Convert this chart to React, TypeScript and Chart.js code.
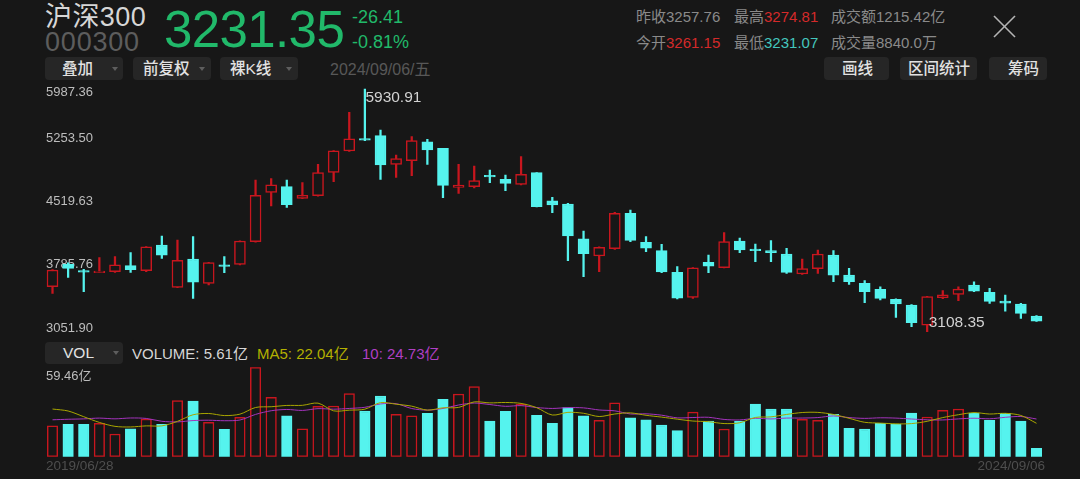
import React, { useEffect, useRef } from "react";
import { Chart, registerables } from "chart.js";
Chart.register(...registerables);

const BG = "#171717";
const RED = "#c8161e";
const CYAN = "#55f3ee";
const FONT = '"Liberation Sans", "Noto Sans CJK SC", sans-serif';

// ---------- data ----------
const months = [
  "2019/06", "2019/07", "2019/08", "2019/09", "2019/10", "2019/11", "2019/12",
  "2020/01", "2020/02", "2020/03", "2020/04", "2020/05", "2020/06", "2020/07", "2020/08", "2020/09", "2020/10", "2020/11", "2020/12",
  "2021/01", "2021/02", "2021/03", "2021/04", "2021/05", "2021/06", "2021/07", "2021/08", "2021/09", "2021/10", "2021/11", "2021/12",
  "2022/01", "2022/02", "2022/03", "2022/04", "2022/05", "2022/06", "2022/07", "2022/08", "2022/09", "2022/10", "2022/11", "2022/12",
  "2023/01", "2023/02", "2023/03", "2023/04", "2023/05", "2023/06", "2023/07", "2023/08", "2023/09", "2023/10", "2023/11", "2023/12",
  "2024/01", "2024/02", "2024/03", "2024/04", "2024/05", "2024/06", "2024/07", "2024/08", "2024/09",
];

const openP = [
  3632, 3892, 3818, 3795, 3807, 3877, 3818, 4117, 3625, 3954,
  3671, 3880, 3892, 4156, 4729, 4795, 4660, 4690, 4962, 5210,
  5350, 5388, 5055, 5098, 5318, 5241, 4787, 4795, 4919, 4880,
  4822, 4958, 4632, 4594, 4190, 3989, 4074, 4485, 4148, 4051,
  3799, 3508, 3915, 3853, 4163, 4066, 4051, 4012, 3780, 3842,
  4001, 3768, 3671, 3601, 3485, 3419, 3186, 3504, 3543, 3652,
  3566, 3466, 3431, 3291,
];
const highP = [
  3830, 3911, 3834, 3970, 3981, 4028, 4100, 4222, 4175, 4214,
  3915, 3981, 4165, 4872, 4888, 4872, 4842, 5055, 5214, 5660,
  5930.91, 5454, 5163, 5377, 5346, 5241, 5055, 5036, 4989, 4931,
  5144, 4960, 4671, 4601, 4280, 4095, 4497, 4524, 4214, 4125,
  3865, 3855, 4001, 4260, 4198, 4128, 4167, 4078, 3954, 4059,
  4051, 3845, 3702, 3632, 3490, 3425, 3520, 3586, 3632, 3690,
  3613, 3535, 3438, 3295,
];
const lowP = [
  3555, 3741, 3574, 3795, 3799, 3799, 3808, 3962, 3620, 3497,
  3652, 3795, 3885, 4150, 4570, 4555, 4655, 4685, 4853, 5205,
  5330, 4880, 4904, 4923, 5055, 4667, 4718, 4780, 4842, 4749,
  4815, 4560, 4493, 3935, 3749, 3807, 4066, 4156, 4039, 3795,
  3489, 3495, 3795, 3850, 4028, 3923, 3923, 3787, 3775, 3787,
  3690, 3659, 3446, 3477, 3276, 3167, 3108.35, 3493, 3469, 3575,
  3438, 3349, 3264, 3229,
];
const closeP = [
  3826, 3845, 3800, 3815, 3887, 3829, 4097, 4000, 3940, 3686,
  3913, 3867, 4164, 4695, 4816, 4587, 4695, 4960, 5211, 5352,
  5337, 5048, 5123, 5332, 5224, 4811, 4814, 4866, 4909, 4832,
  4940, 4564, 4582, 4223, 4016, 4090, 4485, 4170, 4079, 3805,
  3500, 3853, 3872, 4157, 4061, 4051, 4029, 3799, 3842, 4012,
  3765, 3690, 3573, 3496, 3431, 3215, 3516, 3538, 3604, 3580,
  3462, 3442, 3321, 3231.35,
];
// monthly volume, 亿
const volumes = [
  20.6, 21.5, 21.5, 22.2, 15.1, 18.6, 25.1, 21.5, 37.3, 37.0,
  22.8, 18.2, 26.2, 59.46, 39.5, 27.1, 18.6, 33.5, 33.7, 41.9,
  30.4, 40.4, 28.2, 27.1, 28.8, 38.1, 41.7, 46.6, 23.7, 30.2,
  35.0, 27.5, 22.2, 32.6, 27.1, 24.2, 35.9, 25.9, 24.6, 21.1,
  17.3, 29.7, 23.7, 18.4, 23.7, 35.0, 31.7, 31.7, 24.8, 24.2,
  28.2, 18.8, 18.4, 22.2, 21.7, 29.0, 26.4, 30.8, 31.7, 28.8,
  24.2, 28.8, 23.7, 5.61,
];
// the nine months before 2019/06 (only feed the moving averages)
const prevVolumes = [18, 19, 17, 20, 13, 28, 40.5, 41.2, 28.2];

const yTickLabels = ["5987.36", "5253.50", "4519.63", "3785.76", "3051.90"];
const priceMax = 5987.36;
const priceMin = 3051.9;
const volMax = 59.46;
const volMaxLabel = "59.46亿";

// ---------- derived ----------
const isUp = openP.map((o, i) => closeP[i] >= o);
const allVol = prevVolumes.concat(volumes);
function movingAvg(n: number) {
  return volumes.map((_, i) => {
    const j = i + prevVolumes.length;
    let s = 0;
    for (let k = j - n + 1; k <= j; k++) s += allVol[k];
    return s / n;
  });
}
const ma5 = movingAvg(5);
const ma10 = movingAvg(10);

// layout of plot areas (pixels)
const PLOT_L = 44.7;
const PLOT_R = 1044.3;
const K_TOP = 84.15;
const K_BOTTOM = 336.6;
const V_TOP = 367.3;
const V_BOTTOM = 456.7;
const W = 1080;
const H = 479;

function CandleChart() {
  const ref = useRef<HTMLCanvasElement>(null);
  useEffect(() => {
    const labelPlugin = {
      id: "kLabels",
      beforeDatasetsDraw(chart: any) {
        const ctx = chart.ctx;
        const ys = chart.scales.y;
        ctx.save();
        ctx.font = `13px ${FONT}`;
        ctx.fillStyle = "#bdbdbd";
        ctx.textBaseline = "middle";
        ctx.textAlign = "left";
        yTickLabels.forEach((t, k) => {
          const y = ys.getPixelForValue(parseFloat(t));
          ctx.fillText(t, chart.chartArea.left + 1.3, k === 0 ? y + 8.2 : y - 8.6);
        });
        ctx.restore();
      },
      afterDraw(chart: any) {
        const ctx = chart.ctx;
        const xs = chart.scales.x;
        const ys = chart.scales.y;
        let hi = 0;
        let lo = 0;
        highP.forEach((v, i) => { if (v > highP[hi]) hi = i; });
        lowP.forEach((v, i) => { if (v < lowP[lo]) lo = i; });
        ctx.save();
        ctx.font = `15.5px ${FONT}`;
        ctx.fillStyle = "#d2d2d2";
        ctx.textBaseline = "middle";
        ctx.textAlign = "left";
        ctx.fillText(highP[hi].toFixed(2), xs.getPixelForValue(hi) + 0.5, ys.getPixelForValue(highP[hi]) + 8.5);
        ctx.fillText(lowP[lo].toFixed(2), xs.getPixelForValue(lo) + 1.5, ys.getPixelForValue(lowP[lo]) - 8.7);
        ctx.restore();
      },
    };
    const chart = new Chart(ref.current!, {
      type: "bar",
      data: {
        labels: months,
        datasets: [
          {
            label: "body",
            order: 0,
            data: openP.map((o, i) => [o, closeP[i]]) as any,
            backgroundColor: isUp.map((u) => (u ? BG : CYAN)),
            borderColor: isUp.map((u) => (u ? RED : CYAN)),
            borderWidth: 1.5,
            borderSkipped: false,
            barThickness: 11,
            minBarLength: 1.6,
            grouped: false,
          } as any,
          {
            label: "wick",
            order: 1,
            data: lowP.map((l, i) => [l, highP[i]]) as any,
            backgroundColor: isUp.map((u) => (u ? RED : CYAN)),
            borderWidth: 0,
            barThickness: 1.6,
            grouped: false,
          } as any,
        ],
      },
      options: {
        responsive: false,
        animation: false,
        devicePixelRatio: 1,
        layout: {
          padding: { left: PLOT_L, right: W - PLOT_R, top: K_TOP, bottom: H - K_BOTTOM },
        },
        scales: {
          x: { type: "category", display: false, offset: true, grid: { display: false } },
          y: { display: false, min: priceMin, max: priceMax, grid: { display: false } },
        },
        plugins: { legend: { display: false }, tooltip: { enabled: false } },
      },
      plugins: [labelPlugin],
    });
    return () => chart.destroy();
  }, []);
  return <canvas ref={ref} width={W} height={H} style={{ position: "absolute", left: 0, top: 0 }} />;
}

function VolumeChart() {
  const ref = useRef<HTMLCanvasElement>(null);
  useEffect(() => {
    const volPlugin = {
      id: "vLabels",
      beforeDatasetsDraw(chart: any) {
        const ctx = chart.ctx;
        const ys = chart.scales.y;
        ctx.save();
        ctx.font = `13px ${FONT}`;
        ctx.fillStyle = "#bdbdbd";
        ctx.textBaseline = "middle";
        ctx.textAlign = "left";
        ctx.fillText(volMaxLabel, chart.chartArea.left + 1.3, ys.getPixelForValue(volMax) + 9.4);
        ctx.restore();
      },
    };
    const chart = new Chart(ref.current!, {
      type: "bar",
      data: {
        labels: months,
        datasets: [
          {
            type: "line",
            label: "MA5",
            order: 0,
            data: ma5,
            borderColor: "#a9a600",
            borderWidth: 1,
            pointRadius: 0,
            tension: 0.3,
          } as any,
          {
            type: "line",
            label: "MA10",
            order: 1,
            data: ma10,
            borderColor: "#a434bd",
            borderWidth: 1,
            pointRadius: 0,
            tension: 0.3,
          } as any,
          {
            type: "bar",
            label: "VOL",
            order: 2,
            data: volumes,
            backgroundColor: isUp.map((u) => (u ? BG : CYAN)),
            borderColor: isUp.map((u) => (u ? RED : CYAN)),
            borderWidth: 1.5,
            borderSkipped: false,
            barThickness: 10.5,
          } as any,
        ],
      },
      options: {
        responsive: false,
        animation: false,
        devicePixelRatio: 1,
        layout: {
          padding: { left: PLOT_L, right: W - PLOT_R, top: V_TOP, bottom: H - V_BOTTOM },
        },
        scales: {
          x: { type: "category", display: false, offset: true, grid: { display: false } },
          y: { display: false, min: 0, max: volMax, grid: { display: false } },
        },
        plugins: { legend: { display: false }, tooltip: { enabled: false } },
      },
      plugins: [volPlugin],
    });
    return () => chart.destroy();
  }, []);
  return <canvas ref={ref} width={W} height={H} style={{ position: "absolute", left: 0, top: 0 }} />;
}

function T(props: {
  x: number; y: number; s: number; c: string; w?: number; ls?: number; right?: boolean; children: React.ReactNode;
}) {
  const { x, y, s, c, w, ls, right, children } = props;
  const style: React.CSSProperties = {
    position: "absolute",
    top: y - s / 2,
    fontSize: s,
    lineHeight: `${s}px`,
    color: c,
    fontFamily: FONT,
    fontWeight: w || 400,
    whiteSpace: "nowrap",
    letterSpacing: ls ? `${ls}px` : undefined,
  };
  if (right) style.right = W - x;
  else style.left = x;
  return <div style={style}>{children}</div>;
}

function Btn(props: { x: number; y: number; w: number; h: number }) {
  return (
    <div
      style={{
        position: "absolute",
        left: props.x,
        top: props.y,
        width: props.w,
        height: props.h,
        background: "#262626",
        borderRadius: 4,
      }}
    />
  );
}

function Arrow(props: { x: number; y: number }) {
  return (
    <div
      style={{
        position: "absolute",
        left: props.x - 3.5,
        top: props.y - 2,
        width: 0,
        height: 0,
        borderLeft: "3.5px solid transparent",
        borderRight: "3.5px solid transparent",
        borderTop: "4px solid #5e5e5e",
      }}
    />
  );
}

export default function App() {
  const GREEN = "#21b96a";
  const GRAY = "#8a8a8a";
  const IRED = "#d42a2a";
  const TEAL = "#44c6bd";
  const BT = "#e2e2e2";
  return (
    <div
      style={{
        position: "fixed",
        left: 0,
        top: 0,
        width: W,
        height: H,
        background: BG,
        overflow: "hidden",
      }}
    >
      {/* title block */}
      <T x={45} y={17.5} s={27} c="#d6d6d6" ls={0.4}>沪深300</T>
      <T x={45} y={42} s={27} c="#5d5d5d" ls={0.8}>000300</T>
      <T x={164} y={29} s={51} c={GREEN} ls={-0.6}>3231.35</T>
      <T x={352} y={16.5} s={18} c={GREEN}>-26.41</T>
      <T x={352} y={42} s={18} c={GREEN}>-0.81%</T>

      {/* right info */}
      <T x={636} y={16} s={15} c={GRAY}>昨收3257.76</T>
      <T x={734} y={16} s={15} c={GRAY}>最高<span style={{ color: IRED }}>3274.81</span></T>
      <T x={831} y={16} s={15} c={GRAY}>成交额1215.42亿</T>
      <T x={636} y={42} s={15} c={GRAY}>今开<span style={{ color: IRED }}>3261.15</span></T>
      <T x={734} y={42} s={15} c={GRAY}>最低<span style={{ color: TEAL }}>3231.07</span></T>
      <T x={831} y={42} s={15} c={GRAY}>成交量8840.0万</T>
      <svg style={{ position: "absolute", left: 992, top: 14 }} width={26} height={26}>
        <line x1={2} y1={2} x2={23} y2={23} stroke="#b4b4b4" strokeWidth={1.6} />
        <line x1={23} y1={2} x2={2} y2={23} stroke="#b4b4b4" strokeWidth={1.6} />
      </svg>

      {/* toolbar buttons */}
      <Btn x={45} y={57} w={78} h={23} />
      <T x={62} y={69} s={15.5} c={BT} w={500}>叠加</T>
      <Arrow x={115} y={68.5} />
      <Btn x={133} y={57} w={78} h={23} />
      <T x={143} y={69} s={15.5} c={BT} w={500}>前复权</T>
      <Arrow x={202} y={68.5} />
      <Btn x={220} y={57} w={78} h={23} />
      <T x={230} y={69} s={15.5} c={BT} w={500}>裸K线</T>
      <Arrow x={289} y={68.5} />
      <T x={330} y={70} s={16} c="#585858">2024/09/06/五</T>

      <Btn x={824} y={57} w={65} h={23} />
      <T x={842} y={69} s={15.5} c={BT} w={500}>画线</T>
      <Btn x={900} y={57} w={77} h={23} />
      <T x={908} y={69} s={15.5} c={BT} w={500}>区间统计</T>
      <Btn x={989} y={57} w={58} h={23} />
      <T x={1008} y={69} s={15.5} c={BT} w={500}>筹码</T>

      {/* volume header */}
      <Btn x={45} y={342} w={78} h={22} />
      <T x={63} y={353} s={15.5} c={BT} w={500}>VOL</T>
      <Arrow x={116} y={352.5} />
      <T x={132} y={353.5} s={15} c="#d6d6d6">VOLUME: 5.61亿</T>
      <T x={257} y={353.5} s={15} c="#b3b000">MA5: 22.04亿</T>
      <T x={362} y={353.5} s={15} c="#b03fc4">10: 24.73亿</T>

      <CandleChart />
      <VolumeChart />

      <T x={46} y={466} s={13.5} c="#4e4e4e">2019/06/28</T>
      <T x={1045} y={466} s={13.5} c="#4e4e4e" right>2024/09/06</T>
    </div>
  );
}
